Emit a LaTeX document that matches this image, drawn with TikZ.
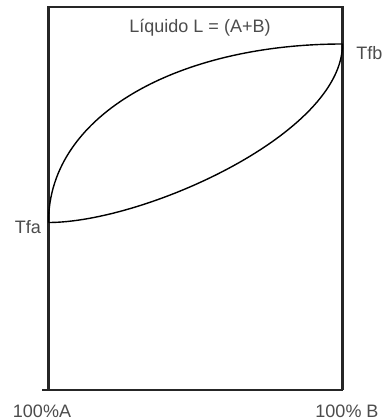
\documentclass[tikz,border=0pt]{standalone}
\usepackage{fontspec}
\setmainfont{Liberation Sans}
\begin{document}
\begin{tikzpicture}[x=1pt,y=-1pt,
  frame/.style={line width=2.2pt,draw=black!85},
  curve/.style={line width=1.4pt,draw=black},
  lbl/.style={text=black!70,font=\fontsize{18}{20}\selectfont,inner sep=0pt}]
\clip (0,0) rectangle (384,420);
\fill[white] (0,0) rectangle (384,420);
% frame corners
\coordinate (tl) at (48.5,7);
\coordinate (tr) at (342.5,7);
\coordinate (bl) at (48.5,390);
\coordinate (br) at (342.5,390);
\coordinate (bx) at (42,390);
\coordinate (tfa) at (48.5,222.5);
\coordinate (tfb) at (342.5,44);
\draw[frame] (bl) -- (tl) -- (tr) -- (br);
\draw[frame] (bx) -- (br);
% liquidus
\draw[curve] (tfa) .. controls (48.5,112.5) and (182.5,44) .. (tfb);
% solidus
\draw[curve] (tfa) .. controls (143.5,222.5) and (342.5,134) .. (tfb);
% labels
\node[lbl] (liq) at (200,28) {Líquido L = (A+B)};
\node[lbl] (lfa) at (28,227) {Tfa};
\node[lbl,anchor=east] (lfb) at (382.5,53) {Tfb};
\node[lbl] (la) at (42,411) {100\%A};
\node[lbl] (lb) at (347,411) {100\% B};
\end{tikzpicture}
\end{document}
